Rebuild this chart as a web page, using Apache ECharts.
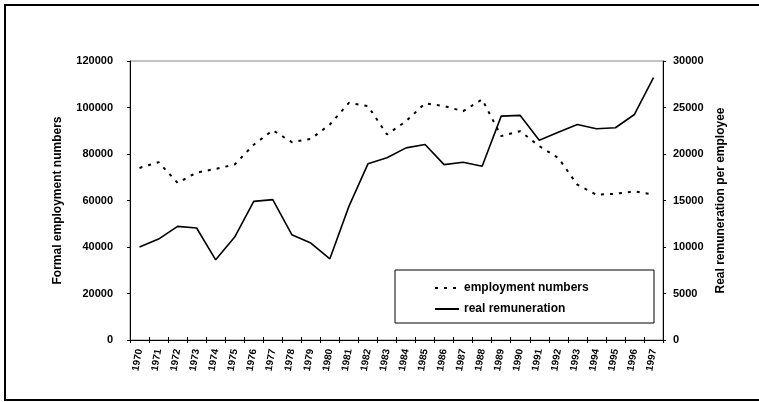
<!DOCTYPE html>
<html>
<head>
<meta charset="utf-8">
<script src="https://cdn.jsdelivr.net/npm/echarts@6/dist/echarts.min.js"></script>
<style>html,body{margin:0;padding:0;background:#fff}#c{width:759px;height:402px}</style>
</head>
<body>
<div id="c"></div>
<script>
const years = ['1970','1971','1972','1973','1974','1975','1976','1977','1978','1979','1980','1981','1982','1983','1984','1985','1986','1987','1988','1989','1990','1991','1992','1993','1994','1995','1996','1997'];
const employment = [74000,76500,67600,72000,73600,75500,84000,90200,85100,86500,92700,102000,100600,88400,94100,101800,100600,98400,103500,87700,89800,83400,78300,66800,62500,62900,63900,62500];
const remuneration = [10000,10850,12220,12040,8620,11070,14910,15090,11320,10420,8730,14370,18940,19590,20660,21020,18860,19110,18680,24070,24150,21480,22350,23180,22710,22820,24250,28210];
const leftTicks = [0,20000,40000,60000,80000,100000,120000];
const rightTicks = [0,5000,10000,15000,20000,25000,30000];

const FONT = 'Liberation Sans, Arial, sans-serif';
const chart = echarts.init(document.getElementById('c'), null, {renderer:'canvas'});
const lab = {color:'#000', fontFamily:FONT, fontWeight:'bold', fontSize:11};
chart.setOption({
  animation:false,
  backgroundColor:'#fff',
  grid:{left:130, right:96, top:61, bottom:62, show:true, borderColor:'#888', borderWidth:1},
  graphic:[
    {type:'rect', shape:{x:5, y:5, width:770, height:395}, style:{fill:'none', stroke:'#000', lineWidth:2}, silent:true},
    {type:'rect', shape:{x:395, y:270, width:259, height:53}, style:{fill:'#fff', stroke:'#000', lineWidth:1}, z:10, silent:true}
  ],
  legend:{
    left:429, top:277, orient:'vertical', itemGap:9, itemWidth:24, itemHeight:10, z:20,
    itemStyle:{opacity:0},
    textStyle:{color:'#000', fontFamily:FONT, fontWeight:'bold', fontSize:12},
    data:['employment numbers','real remuneration']
  },
  xAxis:[{
    type:'category', data:years, boundaryGap:true,
    axisLine:{lineStyle:{color:'#000', width:1}},
    axisTick:{show:true, length:3, alignWithLabel:false, interval:0, lineStyle:{color:'#000'}},
    axisLabel:{...lab, fontSize:10, rotate:80, interval:0, margin:9}
  },{
    type:'category', data:years, boundaryGap:true, position:'bottom',
    axisLine:{show:false},
    axisTick:{show:true, inside:true, length:3, interval:0, lineStyle:{color:'#000'}},
    axisLabel:{show:false}
  }],
  yAxis:[{
    type:'value', min:0, max:120000, interval:20000, position:'left',
    name:'Formal employment numbers', nameLocation:'middle', nameGap:66, nameRotate:90,
    nameTextStyle:{color:'#000', fontFamily:FONT, fontWeight:'bold', fontSize:12},
    axisLine:{show:true, lineStyle:{color:'#000'}},
    axisTick:{show:true, length:3, lineStyle:{color:'#000'}},
    axisLabel:{...lab, margin:17, formatter:v=>leftTicks.includes(v)?String(v):''},
    splitLine:{show:false}
  },{
    type:'value', min:0, max:30000, interval:5000, position:'right',
    name:'Real remuneration per employee', nameLocation:'middle', nameGap:51, nameRotate:90,
    nameTextStyle:{color:'#000', fontFamily:FONT, fontWeight:'bold', fontSize:12},
    axisLine:{show:true, lineStyle:{color:'#000'}},
    axisTick:{show:true, length:3, lineStyle:{color:'#000'}},
    axisLabel:{...lab, margin:10, formatter:v=>rightTicks.includes(v)?String(v):''},
    splitLine:{show:false}
  }],
  series:[{
    name:'employment numbers', type:'line', data:employment, yAxisIndex:0,
    symbol:'none', lineStyle:{color:'#000', width:2, type:[3,6]}, itemStyle:{color:'#000'}
  },{
    name:'real remuneration', type:'line', data:remuneration, yAxisIndex:1,
    symbol:'none', lineStyle:{color:'#000', width:1.6}, itemStyle:{color:'#000'}
  }]
});
</script>
</body>
</html>
